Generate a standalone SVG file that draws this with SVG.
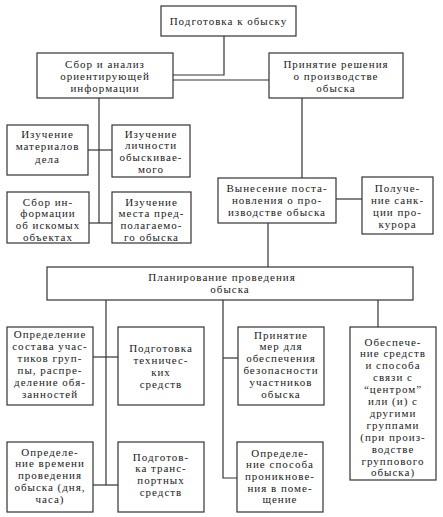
<svg xmlns="http://www.w3.org/2000/svg" width="443" height="517" viewBox="0 0 443 517">
<style>
.box{fill:#fff;stroke:#333;stroke-width:1.2}
.c{fill:none;stroke:#333;stroke-width:1.2}
text{font-family:"Liberation Serif","Times New Roman",serif;font-size:11px;fill:#1a1a1a;text-anchor:middle;letter-spacing:1px}
</style>
<rect width="443" height="517" fill="#fff"/>
<g id="connectors">
<path class="c" d="M224,36 V75 H173"/>
<path class="c" d="M173,80 H269"/>
<path class="c" d="M99,98 V223"/>
<path class="c" d="M88,150 H112"/>
<path class="c" d="M89,223 H112"/>
<path class="c" d="M302,98 V178"/>
<path class="c" d="M336,199 H362"/>
<path class="c" d="M268,223 V267"/>
<path class="c" d="M106,300 V485"/>
<path class="c" d="M93,357 H118"/>
<path class="c" d="M93,485 H118"/>
<path class="c" d="M223,300 V478 H237"/>
<path class="c" d="M223,358 H238"/>
<path class="c" d="M378,300 V327"/>
</g>
<g id="n-top">
<rect class="box" x="161" y="6" width="135" height="30"/>
<text x="228.5" y="25">Подготовка к обыску</text>
</g>
<g id="n-sbor">
<rect class="box" x="37" y="53" width="136" height="45"/>
<text y="67.5"><tspan x="105">Сбор и анализ</tspan><tspan x="105" dy="12">ориентирующей</tspan><tspan x="105" dy="12">информации</tspan></text>
</g>
<g id="n-prinyatie">
<rect class="box" x="269" y="53" width="134" height="45"/>
<text y="67.5"><tspan x="336">Принятие решения</tspan><tspan x="336" dy="12">о производстве</tspan><tspan x="336" dy="12">обыска</tspan></text>
</g>
<g id="n-materialy">
<rect class="box" x="7" y="125" width="81" height="50"/>
<text y="137.5"><tspan x="47.5">Изучение</tspan><tspan x="47.5" dy="12.5">материалов</tspan><tspan x="47.5" dy="12.5">дела</tspan></text>
</g>
<g id="n-lichnost">
<rect class="box" x="112" y="125" width="78" height="52"/>
<text y="137.5"><tspan x="151">Изучение</tspan><tspan x="151" dy="11.7">личности</tspan><tspan x="151" dy="11.7">обыскивае-</tspan><tspan x="151" dy="11.7">мого</tspan></text>
</g>
<g id="n-obekty">
<rect class="box" x="7" y="192" width="82" height="51"/>
<text y="205.5"><tspan x="48">Сбор ин-</tspan><tspan x="48" dy="11.7">формации</tspan><tspan x="48" dy="11.7">об искомых</tspan><tspan x="48" dy="11.7">объектах</tspan></text>
</g>
<g id="n-mesto">
<rect class="box" x="112" y="192" width="79" height="51"/>
<text y="205.5"><tspan x="151.5">Изучение</tspan><tspan x="151.5" dy="11.7">места пред-</tspan><tspan x="151.5" dy="11.7">полагаемо-</tspan><tspan x="151.5" dy="11.7">го обыска</tspan></text>
</g>
<g id="n-vynesenie">
<rect class="box" x="218" y="178" width="118" height="45"/>
<text y="191.5"><tspan x="277">Вынесение поста-</tspan><tspan x="277" dy="12">новления о про-</tspan><tspan x="277" dy="12">изводстве обыска</tspan></text>
</g>
<g id="n-sankciya">
<rect class="box" x="362" y="177" width="71" height="57"/>
<text y="191.5"><tspan x="397.5">Получе-</tspan><tspan x="397.5" dy="12">ние санк-</tspan><tspan x="397.5" dy="12">ции про-</tspan><tspan x="397.5" dy="12">курора</tspan></text>
</g>
<g id="n-planirovanie">
<rect class="box" x="47" y="267" width="366" height="33"/>
<text y="280.5"><tspan x="222">Планирование проведения</tspan><tspan x="230" dy="12">обыска</tspan></text>
</g>
<g id="n-sostav">
<rect class="box" x="7" y="327" width="86" height="78"/>
<text y="337.5"><tspan x="50">Определение</tspan><tspan x="50" dy="12">состава учас-</tspan><tspan x="50" dy="12">тиков груп-</tspan><tspan x="50" dy="12">пы, распре-</tspan><tspan x="50" dy="12">деление обя-</tspan><tspan x="50" dy="12">занностей</tspan></text>
</g>
<g id="n-tehnika">
<rect class="box" x="118" y="327" width="86" height="78"/>
<text y="351.5"><tspan x="161">Подготовка</tspan><tspan x="161" dy="12">техничес-</tspan><tspan x="161" dy="12">ких</tspan><tspan x="161" dy="12">средств</tspan></text>
</g>
<g id="n-bezopasnost">
<rect class="box" x="238" y="327" width="86" height="78"/>
<text y="338.5"><tspan x="281">Принятие</tspan><tspan x="281" dy="11.8">мер для</tspan><tspan x="281" dy="11.8">обеспечения</tspan><tspan x="281" dy="11.8">безопасности</tspan><tspan x="281" dy="11.8">участников</tspan><tspan x="281" dy="11.8">обыска</tspan></text>
</g>
<g id="n-svyaz">
<rect class="box" x="350" y="327" width="86" height="153"/>
<text y="345.5"><tspan x="393">Обеспече-</tspan><tspan x="393" dy="11.9">ние средств</tspan><tspan x="393" dy="11.9">и способа</tspan><tspan x="393" dy="11.9">связи с</tspan><tspan x="393" dy="11.9">“центром”</tspan><tspan x="393" dy="11.9">или (и) с</tspan><tspan x="393" dy="11.9">другими</tspan><tspan x="393" dy="11.9">группами</tspan><tspan x="393" dy="11.9">(при произ-</tspan><tspan x="393" dy="11.9">водстве</tspan><tspan x="393" dy="11.9">группового</tspan><tspan x="393" dy="11.9">обыска)</tspan></text>
</g>
<g id="n-vremya">
<rect class="box" x="7" y="442" width="86" height="70"/>
<text y="455.5"><tspan x="50">Определе-</tspan><tspan x="50" dy="11.9">ние времени</tspan><tspan x="50" dy="11.9">проведения</tspan><tspan x="50" dy="11.9">обыска (дня,</tspan><tspan x="50" dy="11.9">часа)</tspan></text>
</g>
<g id="n-transport">
<rect class="box" x="118" y="442" width="86" height="70"/>
<text y="460.5"><tspan x="161">Подготов-</tspan><tspan x="161" dy="11.7">ка транс-</tspan><tspan x="161" dy="11.7">портных</tspan><tspan x="161" dy="11.7">средств</tspan></text>
</g>
<g id="n-proniknovenie">
<rect class="box" x="237" y="442" width="86" height="70"/>
<text y="456.5"><tspan x="280">Определе-</tspan><tspan x="280" dy="11.7">ние способа</tspan><tspan x="280" dy="11.7">проникнове-</tspan><tspan x="280" dy="11.7">ния в поме-</tspan><tspan x="280" dy="11.7">щение</tspan></text>
</g>
</svg>
